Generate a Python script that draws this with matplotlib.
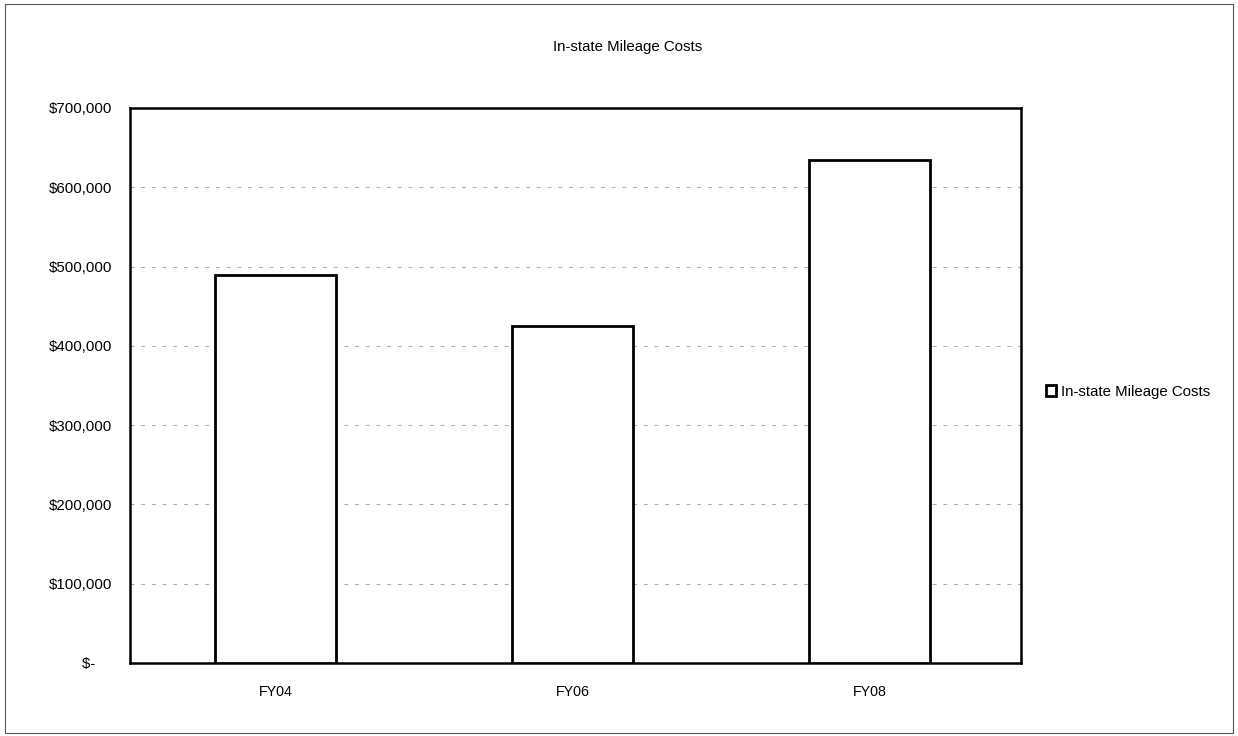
import matplotlib
matplotlib.use("Agg")
from matplotlib import pyplot as plt
from matplotlib.patches import Rectangle
from matplotlib.ticker import FuncFormatter

categories = ["FY04", "FY06", "FY08"]
costs = [489000, 425000, 634000]
yticks = [0, 100000, 200000, 300000, 400000, 500000, 600000, 700000]

plt.rcParams["font.family"] = ["Liberation Sans", "DejaVu Sans"]

fig = plt.figure(figsize=(12.38, 7.36), dpi=100)
fig.patches.append(Rectangle((0.004, 0.004), 0.992, 0.990, transform=fig.transFigure,
                             fill=False, edgecolor="#555555", linewidth=0.8))

ax = fig.add_axes([0.105, 0.0992, 0.7197, 0.7541])
x = range(len(categories))
ax.bar(x, costs, 0.41, color="white", edgecolor="black", linewidth=2,
       label="In-state Mileage Costs", zorder=3)

ax.set_ylim(0, 700000)
ax.set_xlim(-0.49, 2.51)
ax.set_yticks(yticks)
ax.yaxis.set_major_formatter(FuncFormatter(lambda v, p: "$-    " if v == 0 else "${:,.0f}".format(v)))
ax.set_xticks(list(x))
ax.set_xticklabels(categories)
ax.tick_params(axis="x", length=0, labelsize=10.3, pad=16)
ax.tick_params(axis="y", length=0, labelsize=10.8, pad=13)
ax.grid(axis="y", color="#aaaaaa", linestyle=(0, (4, 7)), linewidth=0.7, zorder=0)
for s in ax.spines.values():
    s.set_linewidth(1.8)

fig.text(0.507, 1 - 47 / 736, "In-state Mileage Costs", ha="center", va="center", fontsize=10.8)
fig.legend(loc="center left", bbox_to_anchor=(0.834, 0.468), frameon=False, fontsize=10.8,
           handlelength=0.7, handleheight=0.7, handletextpad=0.3)

fig.savefig("out.png", dpi=100)
